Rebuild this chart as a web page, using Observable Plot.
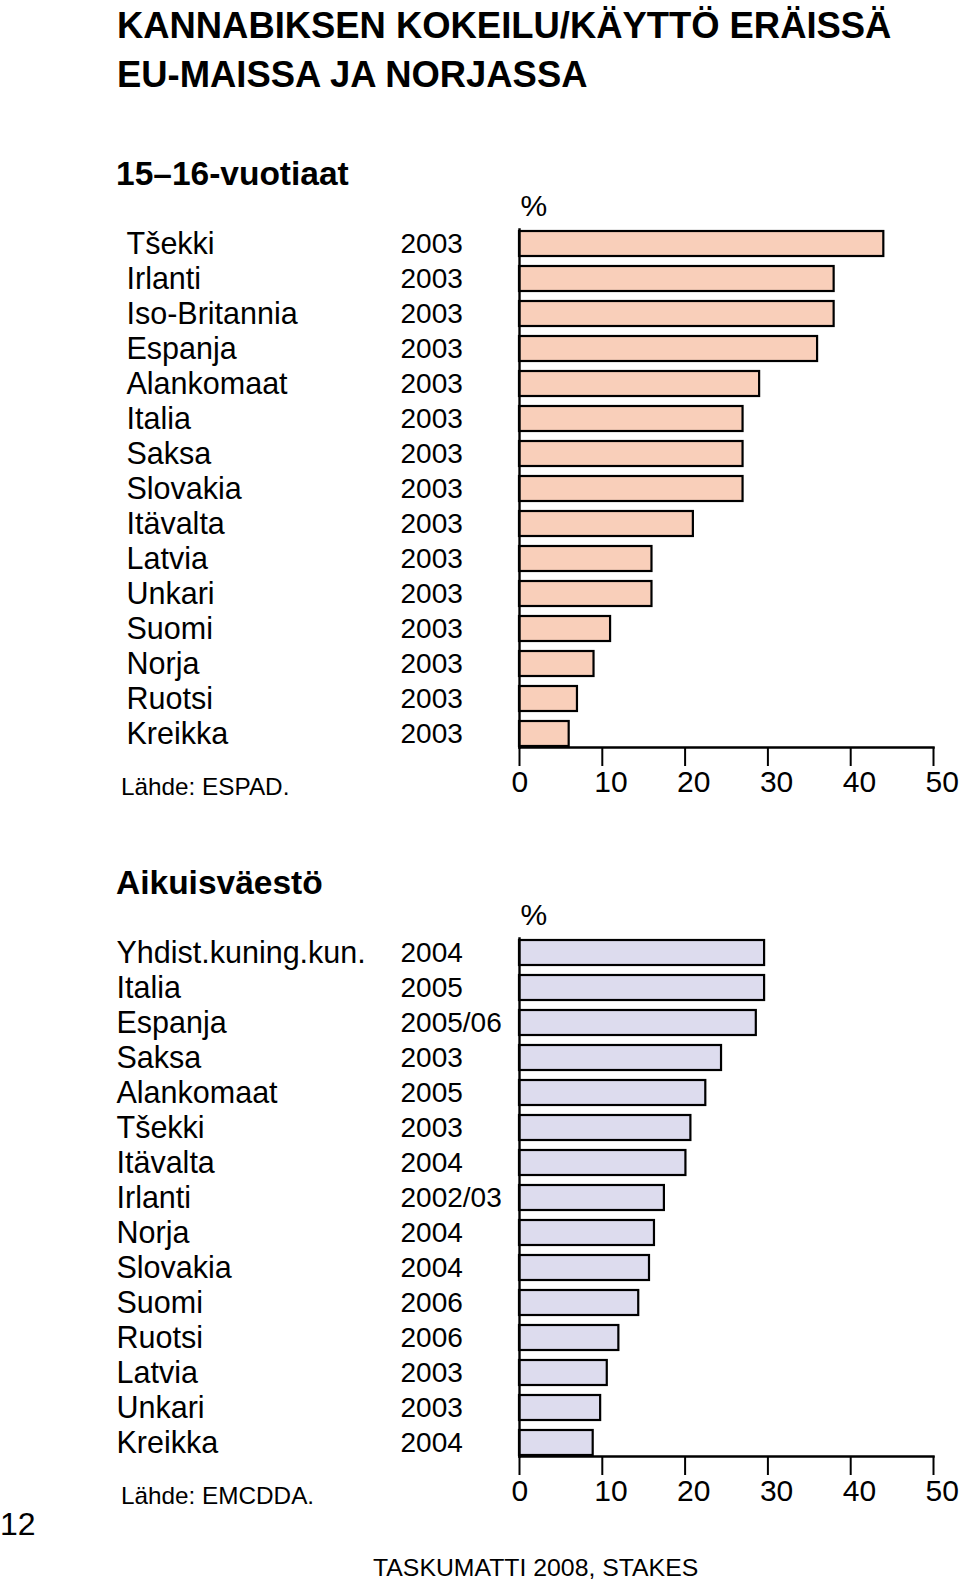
<!DOCTYPE html>
<html>
<head>
<meta charset="utf-8">
<script src="https://cdn.jsdelivr.net/npm/d3@7"></script>
<script src="https://cdn.jsdelivr.net/npm/@observablehq/plot@0.6"></script>
<style>
  html, body { margin: 0; padding: 0; background: #fff; }
  #page { position: relative; width: 960px; height: 1587px; font-family: "Liberation Sans", Arial, Helvetica, sans-serif; color: #000; overflow: hidden; }
  .abs { position: absolute; white-space: nowrap; line-height: 1; }
  .title { font-weight: bold; font-size: 36.4px; }
  .sub { font-weight: bold; font-size: 33.5px; }
  .src { font-size: 24.3px; }
  .chart { position: absolute; left: 0; }
</style>
</head>
<body>
<div id="page">
  <div class="abs title" style="left:117px; top:8px;">KANNABIKSEN KOKEILU/KÄYTTÖ ERÄISSÄ</div>
  <div class="abs title" style="left:117px; top:57px;">EU-MAISSA JA NORJASSA</div>
  <div class="abs sub" style="left:116px; top:157px;">15–16-vuotiaat</div>
  <div class="abs src" style="left:121px; top:775px;">Lähde: ESPAD.</div>
  <div class="abs sub" style="left:116px; top:866px;">Aikuisväestö</div>
  <div class="abs src" style="left:121px; top:1484px;">Lähde: EMCDDA.</div>
  <div class="abs" style="left:0px; top:1508px; font-size:32px;">12</div>
  <div class="abs src" style="left:373px; top:1556px; font-size:24.8px;">TASKUMATTI 2008, STAKES</div>
  <div id="chart1" class="chart" style="top:180px;"></div>
  <div id="chart2" class="chart" style="top:890px;"></div>
</div>
<script>
// 15–16-vuotiaat (ESPAD)
const youthCountries = ["Tšekki","Irlanti","Iso-Britannia","Espanja","Alankomaat","Italia","Saksa","Slovakia","Itävalta","Latvia","Unkari","Suomi","Norja","Ruotsi","Kreikka"];
const youthYears = ["2003","2003","2003","2003","2003","2003","2003","2003","2003","2003","2003","2003","2003","2003","2003"];
const youthValues = [44,38,38,36,29,27,27,27,21,16,16,11,9,7,6];

// Aikuisväestö (EMCDDA)
const adultCountries = ["Yhdist.kuning.kun.","Italia","Espanja","Saksa","Alankomaat","Tšekki","Itävalta","Irlanti","Norja","Slovakia","Suomi","Ruotsi","Latvia","Unkari","Kreikka"];
const adultYears = ["2004","2005","2005/06","2003","2005","2003","2004","2002/03","2004","2004","2006","2006","2003","2003","2004"];
const adultValues = [29.6,29.6,28.6,24.4,22.5,20.7,20.1,17.5,16.3,15.7,14.4,12.0,10.6,9.8,8.9];

const xTicks = [0,10,20,30,40,50];

function makeChart(countries, years, values, fill, labelDx, opts) {
  const data = countries.map((c, i) => ({country: c, year: years[i], value: values[i]}));
  const frameLeft = 519;
  return Plot.plot({
    width: 960,
    height: opts.height,
    marginLeft: frameLeft,
    marginRight: 27,
    marginTop: opts.marginTop,
    marginBottom: 60,
    style: {fontFamily: '"Liberation Sans", Arial, Helvetica, sans-serif', fontSize: "30px", color: "#000", background: "transparent", overflow: "visible"},
    x: {domain: [0, 50], ticks: xTicks, label: null},
    y: {domain: countries, paddingInner: 0.3, paddingOuter: 0, axis: null, label: null},
    marks: [
      Plot.barX(data, {y: "country", x: "value", fill: fill, stroke: "#000", strokeWidth: 2.2}),
      Plot.frame({anchor: "left", stroke: "#000", strokeWidth: 2.4}),
      Plot.frame({anchor: "bottom", stroke: "#000", strokeWidth: 2.4}),
      // tick marks only
      Plot.axisX({ticks: xTicks, tickSize: 19, tickFormat: () => "", stroke: "#000", strokeWidth: 2, label: null}),
      // tick labels only
      Plot.axisX({ticks: xTicks, tickSize: 0, tickPadding: 23, tickFormat: d => String(d), fontSize: 30, fill: "#000", label: null, textAnchor: "start", dx: -8}),
      Plot.text(data, {y: "country", text: "country", frameAnchor: "left", textAnchor: "start", dx: labelDx, dy: 0, fontSize: 30.5, fill: "#000"}),
      Plot.text(data, {y: "country", text: "year", frameAnchor: "left", textAnchor: "start", dx: 400 - frameLeft, dy: 0, fontSize: 28, fill: "#000"}),
      Plot.text(["%"], {frameAnchor: "top-left", text: d => d, textAnchor: "start", lineAnchor: "bottom", dx: 1, dy: -14, fontSize: 30, fill: "#000"})
    ]
  });
}

document.getElementById("chart1").appendChild(
  makeChart(youthCountries, youthYears, youthValues, "#f9cfba", 126 - 519, {height: 627, marginTop: 49})
);
document.getElementById("chart2").appendChild(
  makeChart(adultCountries, adultYears, adultValues, "#dddcee", 116 - 519, {height: 626, marginTop: 48})
);
</script>
</body>
</html>
